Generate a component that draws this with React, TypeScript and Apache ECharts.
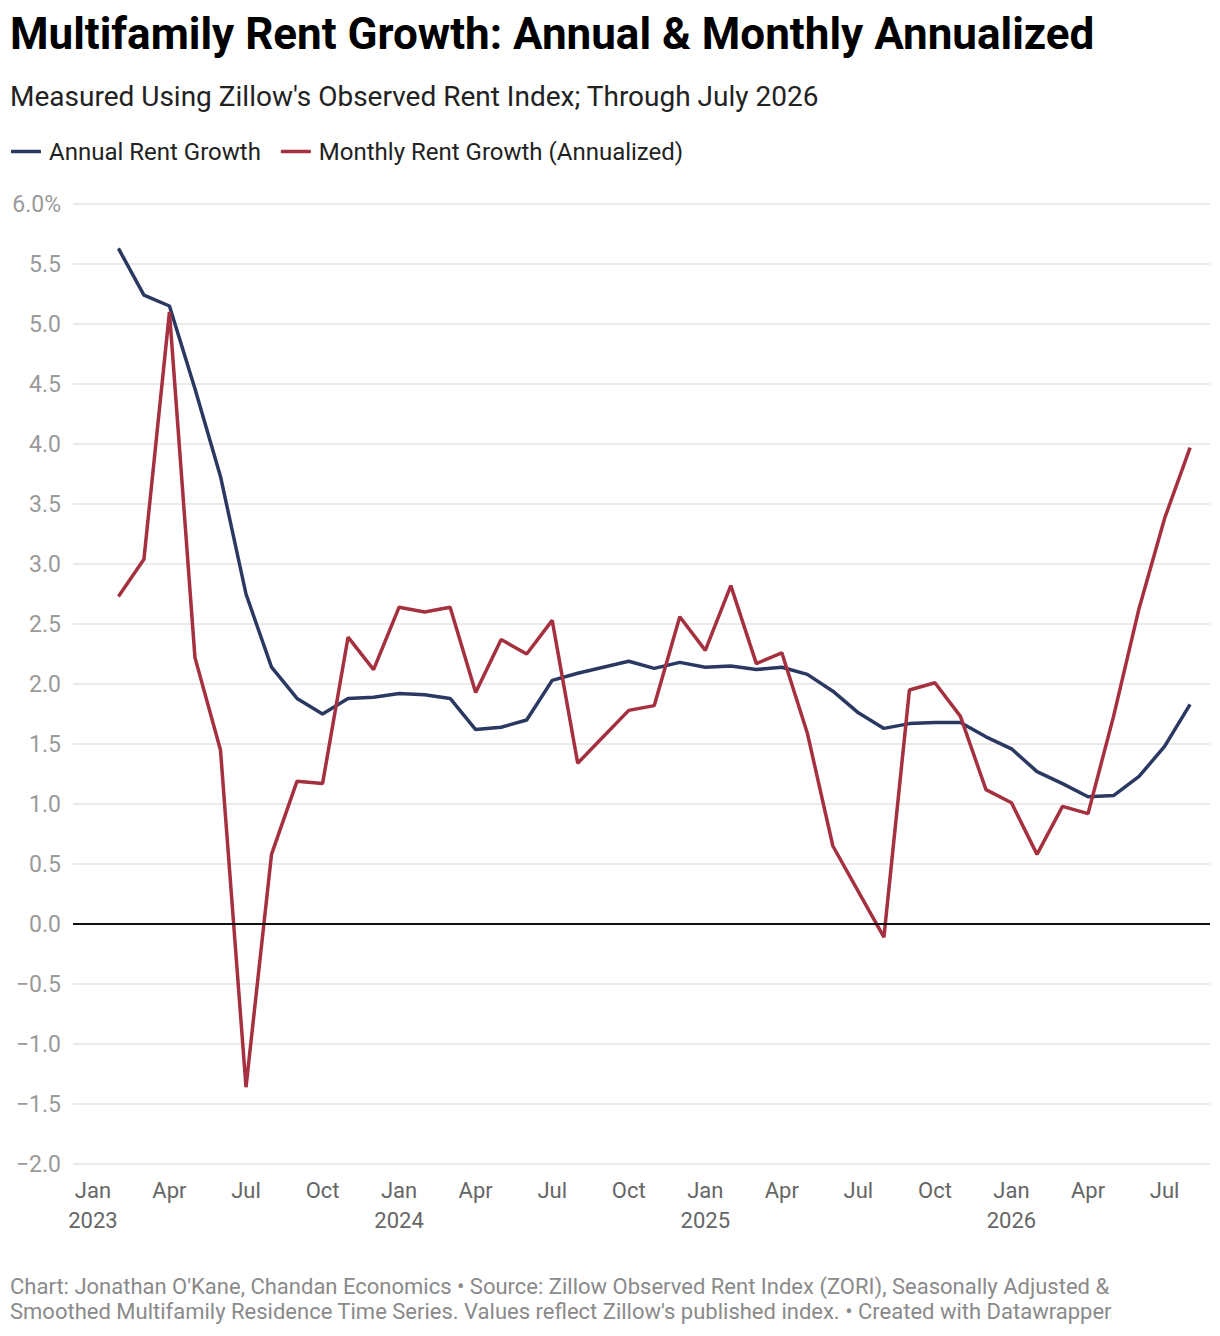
// Multifamily rent growth chart: annual vs. monthly annualized growth (Zillow ZORI).
import { useEffect, useRef } from 'react'
import * as echarts from 'echarts'

// month index 0 = Jan 2023; the series start at Feb 2023 (index 1) and run to Aug 2026 (index 43)
const FIRST_MONTH = 1

const annualGrowth = [
  5.63, 5.24, 5.15, 4.46, 3.73, 2.75, 2.14, 1.88, 1.75, 1.88, 1.89,
  1.92, 1.91, 1.88, 1.62, 1.64, 1.70, 2.03, 2.09, 2.14, 2.19, 2.13, 2.18,
  2.14, 2.15, 2.12, 2.14, 2.08, 1.94, 1.76, 1.63, 1.67, 1.68, 1.68, 1.56,
  1.46, 1.27, 1.17, 1.06, 1.07, 1.23, 1.48, 1.83,
]

const monthlyGrowth = [
  2.73, 3.04, 5.10, 2.22, 1.45, -1.36, 0.58, 1.19, 1.17, 2.39, 2.12,
  2.64, 2.60, 2.64, 1.93, 2.37, 2.25, 2.53, 1.34, 1.56, 1.78, 1.82, 2.56,
  2.28, 2.82, 2.17, 2.26, 1.59, 0.65, 0.27, -0.11, 1.95, 2.01, 1.73, 1.12,
  1.01, 0.58, 0.98, 0.92, 1.73, 2.63, 3.38, 3.97,
]

const xTickValues = [0, 3, 6, 9, 12, 15, 18, 21, 24, 27, 30, 33, 36, 39, 42]
const xTickLabels = [
  'Jan\n2023', 'Apr', 'Jul', 'Oct',
  'Jan\n2024', 'Apr', 'Jul', 'Oct',
  'Jan\n2025', 'Apr', 'Jul', 'Oct',
  'Jan\n2026', 'Apr', 'Jul',
]

const yTickValues = [-2, -1.5, -1, -0.5, 0, 0.5, 1, 1.5, 2, 2.5, 3, 3.5, 4, 4.5, 5, 5.5, 6]
const yTickLabels = [
  '−2.0', '−1.5', '−1.0', '−0.5', '0.0', '0.5', '1.0', '1.5', '2.0',
  '2.5', '3.0', '3.5', '4.0', '4.5', '5.0', '5.5', '6.0%',
]

const seriesNames = ['Annual Rent Growth', 'Monthly Rent Growth (Annualized)']
const seriesColors = ['#2a3862', '#a5303f']

const titleText = 'Multifamily Rent Growth: Annual & Monthly Annualized'
const subtitleText = "Measured Using Zillow's Observed Rent Index; Through July 2026"
const footerLines = [
  "Chart: Jonathan O'Kane, Chandan Economics • Source: Zillow Observed Rent Index (ZORI), Seasonally Adjusted &",
  "Smoothed Multifamily Residence Time Series. Values reflect Zillow's published index. • Created with Datawrapper",
]

const FONT = 'Roboto, sans-serif'

function toPoints(values: number[]) {
  return values.map((v, i) => [FIRST_MONTH + i, v])
}

export default function App() {
  const chartRef = useRef<HTMLDivElement>(null)

  useEffect(() => {
    if (!chartRef.current) return
    const chart = echarts.init(chartRef.current, undefined, { renderer: 'svg' })

    chart.setOption({
      animation: false,
      backgroundColor: '#fff',
      textStyle: { fontFamily: FONT },
      graphic: [
        {
          type: 'text', x: 10, y: 34,
          style: { text: titleText, fontSize: 44, fontWeight: 'bold', fontFamily: FONT, fill: '#000', verticalAlign: 'middle' },
        },
        {
          type: 'text', x: 10, y: 96.5,
          style: { text: subtitleText, fontSize: 28, fontFamily: FONT, fill: '#222', verticalAlign: 'middle' },
        },
        ...footerLines.map((line, i) => ({
          type: 'text', x: 10, y: 1286 + i * 25.7,
          style: { text: line, fontSize: 22, fontFamily: FONT, fill: '#8a8a8a', verticalAlign: 'middle' },
        })),
      ],
      legend: {
        left: 11,
        top: 139.5,
        padding: 0,
        itemGap: 20,
        itemWidth: 30,
        itemHeight: 3.5,
        icon: 'roundRect',
        data: seriesNames,
        textStyle: { fontSize: 24, color: '#222', fontFamily: FONT, padding: [0, 0, 0, 3] },
      },
      grid: { left: 73, right: 10, top: 204, bottom: 172, outerBoundsMode: 'none' },
      xAxis: {
        type: 'value',
        min: -0.78,
        max: 43.78,
        axisLine: { show: false },
        axisTick: { show: false },
        splitLine: { show: false },
        axisLabel: {
          customValues: xTickValues,
          margin: 11,
          fontSize: 22,
          lineHeight: 30,
          color: '#666',
          fontFamily: FONT,
          formatter: (v: number) => xTickLabels[xTickValues.indexOf(v)] ?? '',
        },
      },
      yAxis: {
        type: 'value',
        min: -2,
        max: 6,
        interval: 0.5,
        axisLine: { show: false },
        axisTick: { show: false },
        splitLine: { lineStyle: { color: '#e4e4e4', width: 1.5 } },
        axisLabel: {
          margin: 12,
          fontSize: 23,
          color: '#9a9a9a',
          fontFamily: FONT,
          formatter: (v: number) => yTickLabels[yTickValues.indexOf(v)] ?? '',
        },
      },
      series: [
        {
          name: seriesNames[0],
          type: 'line',
          data: toPoints(annualGrowth),
          symbol: 'none',
          color: seriesColors[0],
          lineStyle: { color: seriesColors[0], width: 3.5 },
          // black zero line across the plot
          markLine: {
            silent: true,
            symbol: ['none', 'none'],
            label: { show: false },
            lineStyle: { color: '#111', width: 2, type: 'solid' },
            emphasis: { disabled: true },
            data: [{ yAxis: 0 }],
          },
        },
        {
          name: seriesNames[1],
          type: 'line',
          data: toPoints(monthlyGrowth),
          symbol: 'none',
          color: seriesColors[1],
          lineStyle: { color: seriesColors[1], width: 3.5 },
        },
      ],
    })

    return () => chart.dispose()
  }, [])

  return (
    <div
      ref={chartRef}
      style={{ position: 'absolute', left: 0, top: 0, width: 1220, height: 1336 }}
    />
  )
}
